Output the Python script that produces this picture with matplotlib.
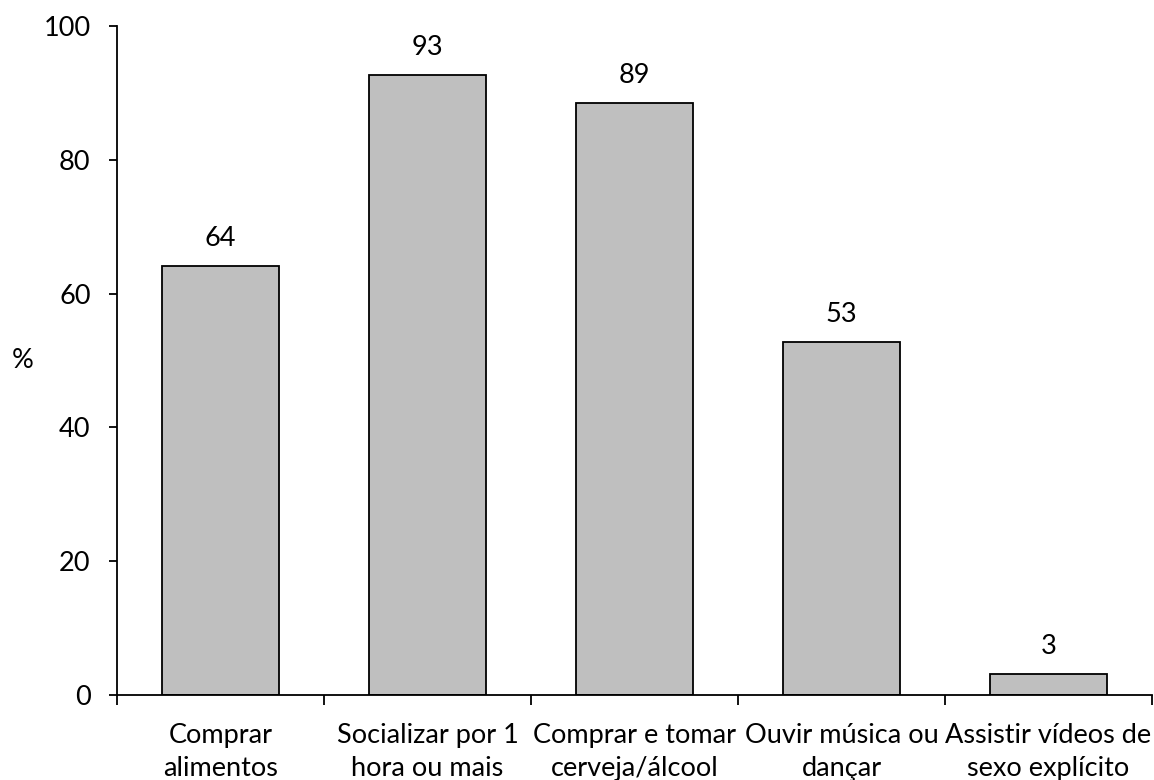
import matplotlib
matplotlib.use("Agg")
import matplotlib.pyplot as plt

categories = ["Comprar\nalimentos", "Socializar por 1\nhora ou mais", "Comprar e tomar\ncerveja/álcool",
              "Ouvir música ou\ndançar", "Assistir vídeos de\nsexo explícito"]
values = [64.1, 92.7, 88.5, 52.8, 3.1]
labels = ["64", "93", "89", "53", "3"]
yticks = [0, 20, 40, 60, 80, 100]

plt.rcParams['font.family'] = ['Lato', 'DejaVu Sans']
fs = 19.5

fig = plt.figure(figsize=(11.54, 7.8), dpi=100)
ax = fig.add_axes([117 / 1154, 85 / 780, 1035 / 1154, 669 / 780])

x = list(range(len(values)))
bars = ax.bar(x, values, width=0.57, color="#BFBFBF", edgecolor="black", linewidth=1.3)
for b, lab in zip(bars, labels):
    ax.annotate(lab, (b.get_x() + b.get_width() / 2, b.get_height()), xytext=(0, 14.5),
                textcoords="offset points", ha="center", va="baseline", fontsize=fs)

ax.set_xlim(-0.5, len(values) - 0.5)
ax.set_ylim(0, 100)
ax.set_yticks(yticks)
ax.set_yticklabels([str(t) for t in yticks], fontsize=fs)
ax.tick_params(axis="y", direction="out", length=6, width=1.3, pad=13)

ax.set_xticks([i - 0.5 for i in range(len(values) + 1)])
ax.set_xticklabels([])
ax.tick_params(axis="x", which="major", direction="out", length=7, width=1.3)
ax.set_xticks(x, minor=True)
ax.set_xticklabels(categories, minor=True, fontsize=fs, linespacing=1.4)
ax.tick_params(axis="x", which="minor", length=0, pad=20)

for s in ["top", "right"]:
    ax.spines[s].set_visible(False)
for s in ["left", "bottom"]:
    ax.spines[s].set_linewidth(1.3)

ax.set_ylabel("%", rotation=0, fontsize=fs, va="center", ha="center")
ax.yaxis.set_label_coords(-0.091, 0.5)

fig.savefig("out.png", dpi=100)
